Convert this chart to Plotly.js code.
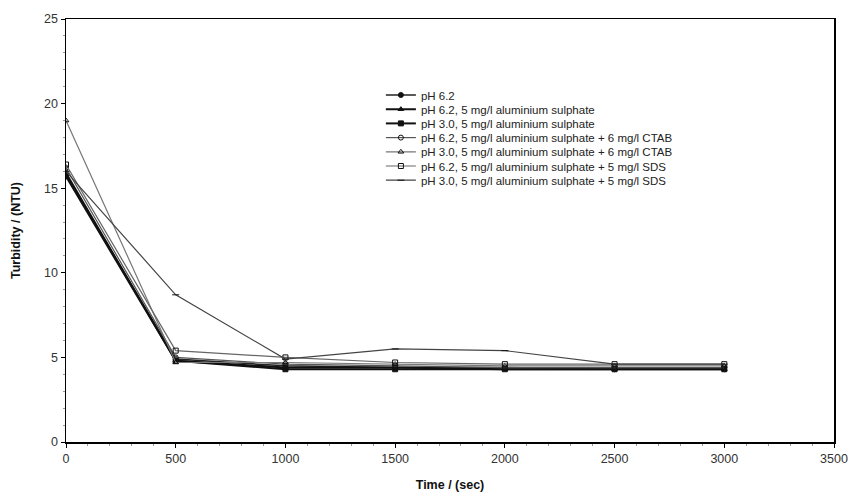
<!DOCTYPE html>
<html>
<head>
<meta charset="utf-8">
<script src="https://cdn.plot.ly/plotly-3.0.1.min.js"></script>
<style>html,body{margin:0;padding:0;background:#fff;}#chart{width:851px;height:496px;}</style>
</head>
<body>
<div id="chart"></div>
<script>
const times = [0, 500, 1000, 1500, 2000, 2500, 3000];
const seriesNames = [
  "pH 6.2",
  "pH 6.2, 5 mg/l aluminium sulphate",
  "pH 3.0, 5 mg/l aluminium sulphate",
  "pH 6.2, 5 mg/l aluminium sulphate + 6 mg/l CTAB",
  "pH 3.0, 5 mg/l aluminium sulphate + 6 mg/l CTAB",
  "pH 6.2, 5 mg/l aluminium sulphate + 5 mg/l SDS",
  "pH 3.0, 5 mg/l aluminium sulphate + 5 mg/l SDS"
];
const ph62 = [15.8, 4.9, 4.5, 4.4, 4.4, 4.3, 4.3];
const ph62Al = [15.9, 4.8, 4.4, 4.4, 4.3, 4.3, 4.3];
const ph30Al = [15.7, 4.8, 4.3, 4.3, 4.3, 4.3, 4.3];
const ph62AlCtab = [16.2, 5.0, 4.6, 4.5, 4.4, 4.4, 4.4];
const ph30AlCtab = [19.0, 4.7, 4.7, 4.6, 4.5, 4.5, 4.5];
const ph62AlSds = [16.4, 5.4, 5.0, 4.7, 4.6, 4.6, 4.6];
const ph30AlSds = [16.0, 8.7, 4.9, 5.5, 5.4, 4.6, 4.6];
const xTickVals = [0, 500, 1000, 1500, 2000, 2500, 3000, 3500];
const yTickVals = [0, 5, 10, 15, 20, 25];

const values = [ph62, ph62Al, ph30Al, ph62AlCtab, ph30AlCtab, ph62AlSds, ph30AlSds];
const symbols = ["circle", "triangle-up", "square", "circle-open", "triangle-up-open", "square-open", "line-ew-open"];
const lineColors = ["#222", "#111", "#111", "#555", "#777", "#666", "#444"];
const widths = [1.5, 2, 2, 1.2, 1.2, 1.2, 1.2];

const legendIds = ["legend", "legend2", "legend3", "legend4", "legend5", "legend6", "legend7"];
const traces = values.map((v, i) => ({
  x: times, y: v, name: seriesNames[i], type: "scatter", mode: "lines+markers",
  legend: legendIds[i],
  line: {color: lineColors[i], width: widths[i]},
  marker: {symbol: symbols[i], size: 5, color: "#111", line: {color: "#111", width: 1}}
}));

const fam = "Liberation Sans, Arial, sans-serif";
const tf = {family: fam, size: 12.5, color: "#333"};
const layout = {
  width: 851, height: 496,
  margin: {l: 66, r: 17, t: 19, b: 54},
  paper_bgcolor: "#fff", plot_bgcolor: "#fff",
  showlegend: true,
  xaxis: {
    range: [0, 3500], tickvals: xTickVals, ticks: "outside", ticklen: 4, tickcolor: "#000",
    showline: true, linecolor: "#000", linewidth: 1.5, mirror: true, showgrid: false, zeroline: false,
    tickfont: tf,
    minor: {dtick: 100, ticks: "outside", ticklen: 2, tickcolor: "#999"},
    title: {text: "Time / (sec)", font: {family: fam, size: 12.5, color: "#111", weight: "bold"}, standoff: 15}
  },
  yaxis: {
    range: [0, 25], tickvals: yTickVals, ticks: "outside", ticklen: 4, tickcolor: "#000",
    showline: true, linecolor: "#000", linewidth: 1.5, mirror: true, showgrid: false, zeroline: false,
    tickfont: tf,
    minor: {dtick: 1, ticks: "outside", ticklen: 2, tickcolor: "#999"},
    title: {text: "Turbidity / (NTU)", font: {family: fam, size: 12.5, color: "#111", weight: "bold"}, standoff: 20}
  }
};
legendIds.forEach((id, i) => {
  layout[id] = {
    x: 0.41, y: (442 - (95 + i * 14.2)) / 423, xanchor: "left", yanchor: "middle",
    font: {family: fam, size: 11.5, color: "#222"}, bgcolor: "rgba(0,0,0,0)", itemwidth: 30
  };
});
Plotly.newPlot("chart", traces, layout, {displayModeBar: false, staticPlot: true});
</script>
</body>
</html>
